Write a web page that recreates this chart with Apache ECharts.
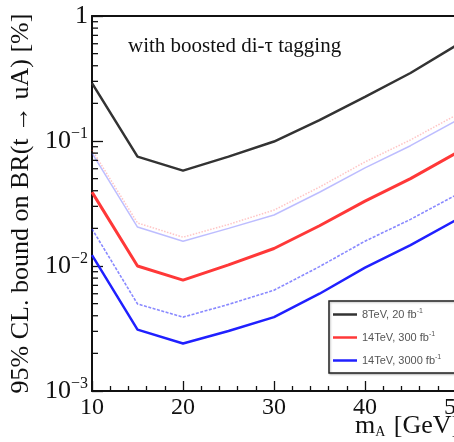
<!DOCTYPE html>
<html>
<head>
<meta charset="utf-8">
<script src="https://cdn.jsdelivr.net/npm/echarts@6/dist/echarts.min.js"></script>
<style>
  html, body { margin: 0; padding: 0; background: #fff; }
  #chart { width: 454px; height: 442px; }
</style>
</head>
<body>
<div id="chart"></div>
<script>
// Pseudoscalar mass points [GeV]
const massPoints = [10, 15, 20, 25, 30, 35, 40, 45, 50];

// 95% CL upper bounds on BR(t -> uA) [%]
const br8TeV20 = [0.29, 0.075, 0.058, 0.075, 0.099, 0.147, 0.225, 0.35, 0.58];
const br14TeV300 = [0.039, 0.010, 0.0077, 0.0102, 0.0138, 0.021, 0.033, 0.050, 0.080];
const br14TeV3000 = [0.0122, 0.0031, 0.0024, 0.00302, 0.0039, 0.0060, 0.0097, 0.0147, 0.0233];
// lighter companion curves
const br14TeV300Alt = [0.085, 0.0221, 0.017, 0.0215, 0.028, 0.0428, 0.068, 0.102, 0.161];
const br14TeV3000Alt = [0.080, 0.0205, 0.0158, 0.020, 0.0256, 0.0389, 0.061, 0.0917, 0.145];
const br14TeV3000Dash = [0.0198, 0.00497, 0.0039, 0.00493, 0.0064, 0.00989, 0.0158, 0.0236, 0.037];

// axis ticks
const xTicks = [10, 20, 30, 40, 50];
const yTickLabels = { '0.001': '10{sup|−3}', '0.01': '10{sup|−2}', '0.1': '10{sup|−1}', '1': '1' };
const yMinorTicks = [];
[0.001, 0.01, 0.1].forEach(function (d) {
  for (let k = 2; k <= 9; k++) yMinorTicks.push(+(d * k).toPrecision(3));
});

const legendNames = ['8TeV, 20 fb-1', '14TeV, 300 fb-1', '14TeV, 3000 fb-1'];
const legendLabels = {
  '8TeV, 20 fb-1': '8TeV, 20 fb{s|-1}',
  '14TeV, 300 fb-1': '14TeV, 300 fb{s|-1}',
  '14TeV, 3000 fb-1': '14TeV, 3000 fb{s|-1}'
};

const serif = 'Liberation Serif';

function pairs(ys) {
  return massPoints.map(function (m, i) { return [m, ys[i]]; });
}

function lineSeries(name, ys, color, width, type, z) {
  return {
    name: name,
    type: 'line',
    data: pairs(ys),
    showSymbol: false,
    symbol: 'none',
    smooth: false,
    z: z || 2,
    itemStyle: { color: color },
    lineStyle: { color: color, width: width, type: type || 'solid' }
  };
}

const chart = echarts.init(document.getElementById('chart'), null, { renderer: 'canvas' });

chart.setOption({
  animation: false,
  backgroundColor: '#fff',
  grid: { left: 92, top: 16, width: 364, height: 375, containLabel: false, outerBoundsMode: 'none' },
  xAxis: [
    {
      type: 'value',
      min: 10, max: 50, interval: 10,
      axisLine: { show: true, onZero: false, lineStyle: { color: '#111', width: 2 } },
      axisTick: { show: true, inside: true, length: 10, lineStyle: { color: '#111', width: 1.3 } },
      minorTick: { show: true, splitNumber: 5, length: 5, lineStyle: { color: '#111', width: 1.3 } },
      axisLabel: {
        fontFamily: serif, fontSize: 24, color: '#111', margin: 5,
        formatter: function (v) { return xTicks.indexOf(v) >= 0 ? String(v) : ''; }
      },
      splitLine: { show: false }
    },
    {
      type: 'value', position: 'top', min: 10, max: 50,
      axisLine: { show: true, onZero: false, lineStyle: { color: '#111', width: 2 } },
      axisTick: { show: false }, axisLabel: { show: false }, splitLine: { show: false }
    }
  ],
  yAxis: {
    type: 'log',
    logBase: 10,
    min: 0.001, max: 1,
    name: '95% CL. bound on BR(t → uA) [%]',
    nameLocation: 'middle',
    nameRotate: 90,
    nameGap: 49,
    nameTextStyle: { fontFamily: serif, fontSize: 26, color: '#111' },
    axisLine: { show: true, onZero: false, lineStyle: { color: '#111', width: 2 } },
    axisTick: { show: true, inside: true, length: 11, lineStyle: { color: '#111', width: 1.3 } },
    axisLabel: {
      fontFamily: serif, fontSize: 26, color: '#111', margin: 4,
      formatter: function (v) {
        const key = String(+v.toPrecision(3));
        return yTickLabels[key] !== undefined ? yTickLabels[key] : '';
      },
      rich: {
        sup: { fontFamily: serif, fontSize: 16, verticalAlign: 'top', padding: [0, 0, 14, 0], color: '#111' }
      }
    },
    splitLine: { show: false }
  },
  legend: {
    orient: 'vertical',
    left: 329, top: 301,
    data: legendNames,
    icon: 'rect',
    itemWidth: 24, itemHeight: 2.5,
    itemGap: 11,
    padding: [7, 30, 7, 4],
    borderColor: '#222', borderWidth: 1.5,
    backgroundColor: '#fff',
    shadowColor: 'rgba(0,0,0,0.25)', shadowBlur: 2, shadowOffsetX: 1, shadowOffsetY: 1,
    formatter: function (n) { return legendLabels[n]; },
    textStyle: {
      fontFamily: 'Liberation Sans', fontSize: 11, color: '#555',
      rich: { s: { fontFamily: 'Liberation Sans', fontSize: 7, verticalAlign: 'top', padding: [0, 0, 6, 0], color: '#555' } }
    }
  },
  graphic: [
    {
      type: 'text', left: 128, top: 36,
      style: { text: 'with boosted di-τ tagging', font: '21px "Liberation Serif"', fill: '#111' }
    },
    {
      type: 'text', left: 355, top: 413,
      style: {
        text: 'm{sub|A} [GeV]',
        font: '26px "Liberation Serif"',
        fill: '#111',
        rich: {
          sub: { fontFamily: serif, fontSize: 14, verticalAlign: 'bottom', padding: [12, 2, 0, 0], fill: '#111' }
        }
      }
    }
  ],
  series: [
    lineSeries('14TeV, 300 fb-1 (alt)', br14TeV300Alt, 'rgba(255,90,90,0.35)', 1.5, 'dotted', 1),
    lineSeries('14TeV, 3000 fb-1 (alt)', br14TeV3000Alt, 'rgba(90,90,255,0.4)', 1.5, 'solid', 1),
    lineSeries('14TeV, 3000 fb-1 (dashed)', br14TeV3000Dash, 'rgba(40,40,255,0.55)', 1.6, [3, 1.5], 1),
    lineSeries('8TeV, 20 fb-1', br8TeV20, '#333333', 2.5, 'solid', 3),
    lineSeries('14TeV, 300 fb-1', br14TeV300, '#ff3838', 3, 'solid', 3),
    lineSeries('14TeV, 3000 fb-1', br14TeV3000, '#2020ff', 2.5, 'solid', 3),
    {
      // log-spaced minor ticks on the y axis (2..9 per decade)
      name: 'yMinorTicks',
      type: 'custom',
      silent: true,
      clip: false,
      z: 5,
      data: yMinorTicks.map(function (v) { return [10, v]; }),
      renderItem: function (params, api) {
        const p = api.coord([api.value(0), api.value(1)]);
        return {
          type: 'line',
          shape: { x1: p[0], y1: p[1], x2: p[0] + 6, y2: p[1] },
          style: { stroke: '#111', lineWidth: 1.3 }
        };
      }
    }
  ]
});
</script>
</body>
</html>
